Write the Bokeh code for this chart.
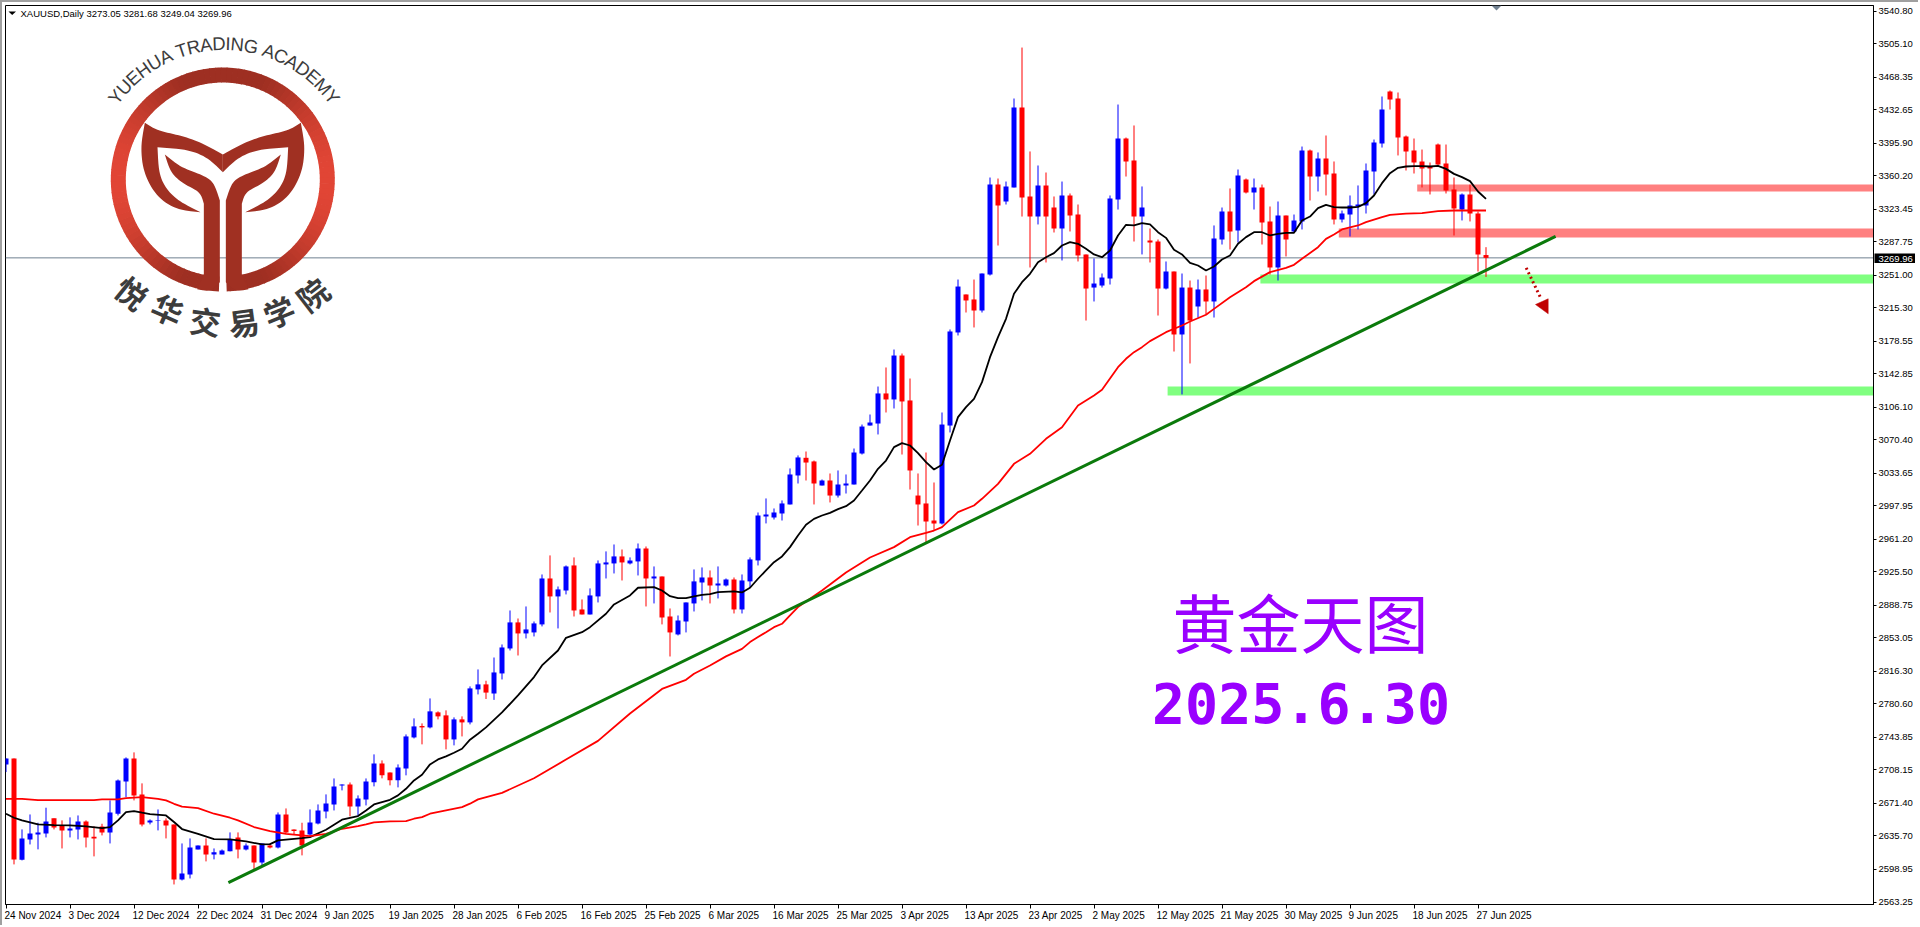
import math
from bokeh.plotting import figure
from bokeh.models import Range1d, FixedTicker, Label, Span, ColumnDataSource, LinearAxis
from bokeh.core.properties import value
from bokeh.embed import file_html
from bokeh.resources import INLINE

symbol_line = "XAUUSD,Daily  3273.05 3281.68 3249.04 3269.96"
last_price = 3269.96

opens = [
2714.2,2720.8,2609.6,2631.9,2637.4,2638.5,2655.0,2647.3,2641.8,2642.9,
2651.7,2634.8,2646.2,2639.6,2660.1,2695.5,2720.8,2681.3,2650.6,2652.0,
2652.8,2648.4,2588.0,2593.5,2620.9,2625.3,2615.5,2615.5,2618.8,2634.1,
2620.9,2625.3,2606.7,2625.3,2623.1,2659.3,2642.9,2641.8,2637.4,2649.5,
2662.6,2670.3,2691.2,2692.3,2668.1,2675.8,2694.5,2715.3,2705.4,2696.7,
2709.8,2743.8,2756.3,2754.8,2771.3,2768.0,2741.6,2763.6,2760.3,2796.5,
2802.0,2792.0,2814.0,2841.4,2870.0,2857.9,2859.0,2867.8,2918.2,2898.5,
2905.0,2932.5,2884.2,2878.7,2898.5,2933.6,2934.7,2942.4,2934.7,2936.9,
2951.1,2918.2,2920.4,2876.5,2856.8,2871.0,2890.8,2913.8,2919.3,2910.5,
2910.5,2917.1,2884.2,2915.0,2938.0,2986.2,2985.1,2989.5,2999.4,3031.2,
3050.6,3046.6,3020.2,3025.7,3009.2,3020.2,3021.3,3055.3,3086.0,3088.2,
3121.2,3114.6,3162.8,3113.5,3009.2,3000.5,2981.8,2978.5,3086.0,3188.1,
3229.8,3224.3,3212.2,3251.7,3350.4,3331.8,3347.2,3434.9,3337.3,3315.3,
3349.4,3325.2,3302.2,3338.4,3317.5,3273.7,3237.4,3239.6,3247.3,3334.0,
3400.9,3376.8,3315.3,3289.0,3287.9,3236.3,3255.0,3185.9,3237.4,3216.6,
3235.3,3222.1,3290.1,3320.8,3300.0,3355.9,3341.7,3347.2,3309.9,3259.4,
3316.4,3298.9,3309.9,3387.8,3359.2,3379.0,3362.5,3312.1,3317.5,3326.3,
3327.4,3364.7,3395.4,3452.5,3444.8,3403.1,3387.8,3375.7,3370.2,3394.3,
3373.5,3345.0,3323.0,3339.5,3318.6,3273.05]
highs = [
2720.8,2720.8,2642.9,2659.3,2650.2,2666.7,2655.0,2652.8,2656.1,2658.2,
2652.8,2646.2,2649.1,2674.7,2697.7,2721.9,2727.4,2693.4,2653.9,2664.8,
2655.0,2648.4,2627.5,2633.0,2625.3,2633.0,2622.0,2620.9,2639.6,2639.6,
2627.5,2625.3,2627.5,2627.5,2661.5,2665.9,2642.9,2650.2,2664.8,2670.3,
2681.3,2698.8,2692.3,2694.4,2680.2,2698.8,2725.2,2718.6,2705.4,2714.2,
2747.1,2764.7,2759.2,2786.6,2772.4,2773.5,2765.8,2766.9,2799.8,2818.4,
2806.0,2831.5,2845.8,2883.1,2874.3,2887.5,2871.0,2922.6,2943.5,2909.4,
2932.5,2941.3,2895.2,2907.3,2938.0,2947.9,2955.5,2950.0,2941.3,2956.6,
2953.3,2931.4,2920.4,2885.3,2877.6,2891.9,2928.1,2930.3,2927.0,2931.4,
2918.2,2919.3,2922.6,2941.3,2990.6,3006.0,2995.0,3003.8,3038.9,3053.2,
3057.5,3047.6,3026.8,3033.4,3036.7,3032.3,3060.8,3087.1,3098.1,3128.8,
3149.7,3169.4,3165.0,3137.6,3033.4,3056.4,3023.5,3100.3,3191.4,3246.2,
3229.8,3246.2,3252.8,3358.1,3357.0,3353.7,3444.8,3500.7,3386.7,3371.3,
3363.6,3337.3,3353.7,3340.6,3328.5,3273.7,3269.3,3252.8,3338.4,3438.2,
3402.0,3415.2,3348.3,3302.2,3290.1,3266.0,3255.0,3252.8,3245.1,3246.2,
3250.6,3305.5,3325.2,3346.1,3366.9,3357.0,3357.0,3350.4,3326.3,3331.8,
3316.4,3317.5,3392.1,3388.8,3385.6,3404.2,3375.7,3321.9,3338.4,3349.4,
3373.5,3399.8,3447.0,3453.6,3451.4,3404.2,3400.9,3388.8,3374.6,3395.4,
3394.3,3358.1,3340.6,3350.4,3320.8,3281.68]
lows = [
2705.8,2604.5,2608.9,2626.4,2621.0,2634.1,2642.9,2622.0,2634.1,2631.9,
2623.1,2613.3,2636.3,2627.5,2658.2,2678.4,2674.7,2646.2,2648.4,2641.8,
2633.0,2582.5,2586.9,2589.1,2620.9,2607.8,2610.0,2615.5,2618.8,2611.1,
2619.8,2599.0,2603.4,2622.0,2622.0,2638.5,2637.4,2614.4,2635.2,2648.4,
2655.0,2663.7,2685.7,2657.2,2658.2,2669.2,2690.1,2698.9,2691.2,2689.0,
2702.2,2742.7,2736.2,2753.7,2763.6,2730.7,2735.1,2744.9,2758.1,2791.0,
2786.0,2785.0,2807.4,2839.2,2833.7,2852.4,2854.6,2865.6,2880.9,2863.4,
2900.7,2876.5,2878.7,2878.7,2891.9,2918.2,2923.7,2916.0,2933.6,2921.5,
2887.5,2890.8,2867.8,2832.6,2855.7,2859.0,2882.0,2894.1,2890.8,2896.3,
2909.4,2879.8,2879.8,2908.3,2932.5,2978.6,2982.9,2981.8,2999.4,3022.4,
3025.7,2999.4,3020.2,3001.6,3007.0,3011.4,3021.3,3054.2,3086.0,3076.2,
3100.3,3104.7,3054.2,3015.8,2976.3,2957.7,2970.8,2977.4,3078.4,3184.8,
3210.0,3193.6,3210.0,3250.6,3283.5,3328.5,3347.2,3315.3,3259.4,3306.6,
3264.9,3297.8,3267.1,3298.9,3266.0,3201.2,3222.1,3237.4,3240.7,3323.0,
3359.2,3287.9,3273.7,3264.9,3206.7,3235.3,3167.2,3120.1,3154.1,3204.5,
3207.8,3204.5,3284.6,3279.1,3286.8,3340.6,3323.0,3284.6,3251.7,3245.1,
3271.5,3297.8,3301.1,3332.9,3342.8,3338.4,3306.6,3308.8,3293.4,3301.1,
3318.6,3339.5,3391.0,3432.7,3382.3,3365.8,3362.5,3347.2,3339.5,3370.2,
3340.6,3294.5,3311.0,3309.9,3255.0,3249.04]
closes = [
2720.8,2610.0,2633.0,2638.5,2639.6,2651.7,2645.1,2641.8,2644.0,2651.7,
2634.1,2633.0,2639.6,2661.5,2696.6,2720.8,2680.2,2648.4,2652.8,2652.8,
2647.3,2588.0,2594.6,2623.1,2625.3,2615.5,2617.7,2619.8,2631.9,2620.9,
2625.3,2606.7,2627.5,2623.1,2659.3,2639.6,2641.1,2625.3,2650.6,2663.7,
2671.4,2690.1,2692.3,2668.1,2676.9,2695.5,2715.3,2702.2,2696.7,2710.9,
2744.9,2755.9,2754.8,2772.4,2766.9,2741.6,2763.6,2760.3,2797.6,2802.0,
2793.0,2815.1,2842.5,2870.0,2857.9,2862.3,2868.9,2918.2,2898.5,2906.2,
2931.4,2883.1,2878.7,2899.6,2934.7,2935.8,2942.4,2935.8,2937.9,2951.1,
2918.2,2920.4,2875.4,2859.0,2872.1,2891.9,2915.0,2919.3,2910.5,2912.7,
2917.1,2884.2,2916.0,2939.1,2987.3,2988.4,2990.6,3000.5,3032.3,3051.0,
3045.4,3022.4,3025.7,3009.2,3021.3,3022.4,3056.4,3084.9,3089.3,3121.2,
3114.6,3162.8,3112.4,3036.7,2999.4,2980.7,2978.5,3087.1,3189.2,3238.5,
3223.2,3212.2,3252.8,3350.4,3327.4,3348.3,3434.9,3336.2,3315.3,3349.4,
3315.3,3302.2,3338.4,3316.4,3272.6,3236.3,3241.8,3248.4,3335.1,3400.9,
3375.7,3315.3,3325.2,3286.8,3236.3,3255.0,3185.9,3237.4,3201.2,3235.3,
3222.1,3291.2,3320.8,3298.9,3360.3,3341.7,3347.2,3308.8,3259.4,3316.4,
3290.1,3311.0,3387.8,3359.2,3379.0,3361.4,3312.1,3318.6,3327.4,3328.5,
3365.8,3396.5,3432.7,3443.7,3402.0,3386.7,3374.6,3368.0,3368.0,3372.4,
3343.9,3324.1,3339.5,3318.6,3273.7,3269.96]

fast_idx = [0,1,2,4,6,8,10,12,13,14,15,16,17,18,20,21,22,24,26,28,30,32,33,34,36,37,38,40,41,42,44,45,46,48,49,50,51,52,
53,54,55,56,57,58,59,60,62,64,66,67,69,70,72,73,75,76,78,79,81,82,83,84,85,86,87,88,89,91,92,93,94,95,96,97,98,99,
100,101,102,103,104,105,106,107,108,109,110,111,112,113,114,115,116,117,118,119,120,121,122,123,124,125,126,127,128,129,130,131,132,133,134,135,136,137,
138,139,140,141,142,143,144,145,146,147,148,149,150,151,152,153,154,155,156,157,158,159,160,161,162,163,164,165,166,167,168,169,170,171,172,173,174,175,176,177,178,179,180,181,182,183,184,185]
fast_ma = [2660.1,2655.7,2652.8,2648.4,2647.6,2647.3,2646.2,2644.4,2645.4,2652.8,2661.9,2663.0,2661.2,2659.7,2658.2,2651.0,2643.3,2638.1,2632.3,2631.9,2629.7,2626.4,2626.8,2630.8,2632.6,2633.4,2634.5,2642.5,2648.0,2653.5,2657.5,2663.7,2670.3,2675.4,2680.2,2687.5,2696.6,2702.9,
2714.2,2719.7,2723.0,2727.0,2731.4,2741.3,2747.9,2754.8,2771.2,2789.9,2810.0,2822.8,2839.2,2853.1,2859.3,2864.8,2879.5,2889.7,2899.6,2908.0,2908.7,2905.0,2898.8,2896.6,2896.6,2898.5,2900.3,2901.0,2903.2,2904.0,2902.9,2908.0,2917.9,2927.0,2936.1,2942.4,2952.6,2965.4,
2977.1,2983.6,2987.3,2990.2,2994.3,2997.5,3003.8,3014.7,3025.7,3038.5,3047.6,3062.3,3066.7,3064.1,3055.7,3045.8,3037.8,3042.9,3069.6,3095.2,3106.2,3115.3,3133.6,3161.0,3183.0,3203.1,3230.5,3243.3,3252.4,3265.2,3270.7,3275.1,3283.5,3287.2,3285.4,3279.9,3273.7,3270.7,
3278.0,3294.5,3306.2,3305.5,3308.0,3306.6,3298.1,3291.9,3278.8,3273.7,3264.5,3261.6,3256.1,3260.5,3268.2,3272.6,3285.4,3292.7,3298.1,3298.1,3294.5,3296.3,3297.4,3297.4,3311.0,3315.3,3324.5,3328.1,3325.6,3325.2,3325.2,3325.9,3330.0,3338.4,3351.9,3362.9,3368.7,3370.2,3370.6,3370.6,3370.2,3370.9,3367.6,3362.1,3358.5,3354.1,3342.8,3334.7]

slow_idx = [0,2,4,8,11,12,14,15,17,19,20,21,22,24,26,28,29,31,33,35,37,38,40,41,42,44,45,46,48,50,51,52,53,55,57,58,59,
62,66,70,74,78,82,85,86,88,90,92,93,94,95,96,97,98,99,102,105,108,111,113,115,116,117,119,121,122,124,126,128,130,132,134,136,137,139,
140,141,142,143,145,147,148,150,151,153,155,156,158,160,161,162,164,165,166,167,169,170,172,173,175,177,179,181,183,185]
slow_ma = [2676.5,2676.5,2675.0,2675.0,2675.0,2675.8,2675.8,2677.3,2678.4,2676.5,2674.7,2671.0,2667.8,2666.3,2660.1,2655.7,2652.8,2645.5,2641.0,2638.1,2636.3,2635.6,2638.1,2640.7,2643.6,2646.6,2648.4,2650.6,2651.7,2652.0,2654.6,2656.4,2660.1,2663.8,2667.4,2671.1,2675.8,
2683.0,2699.0,2719.5,2740.0,2770.0,2797.0,2807.0,2813.6,2822.8,2832.7,2841.0,2848.4,2853.9,2859.3,2864.8,2868.5,2877.6,2886.8,2905.0,2924.8,2941.2,2952.6,2963.5,2968.3,2970.8,2974.5,2991.0,2998.3,3005.6,3022.0,3044.0,3055.0,3071.4,3084.2,3108.0,3119.0,3125.2,3150.0,
3159.2,3166.5,3172.0,3178.6,3188.4,3195.8,3200.1,3207.5,3214.0,3226.8,3237.8,3244.4,3254.3,3259.0,3262.3,3268.9,3281.7,3290.8,3295.6,3301.1,3305.5,3309.1,3314.6,3317.2,3318.6,3319.0,3321.2,3321.9,3321.9,3321.9]

price_ticks = [3540.80,3505.10,3468.35,3432.65,3395.90,3360.20,3323.45,3287.75,3251.00,3215.30,3178.55,3142.85,3106.10,3070.40,3033.65,2997.95,2961.20,2925.50,2888.75,2853.05,2816.30,2780.60,2743.85,2708.15,2671.40,2635.70,2598.95,2563.25]
date_labels = ["24 Nov 2024","3 Dec 2024","12 Dec 2024","22 Dec 2024","31 Dec 2024","9 Jan 2025","19 Jan 2025","28 Jan 2025","6 Feb 2025","16 Feb 2025","25 Feb 2025","6 Mar 2025","16 Mar 2025","25 Mar 2025","3 Apr 2025","13 Apr 2025","23 Apr 2025","2 May 2025","12 May 2025","21 May 2025","30 May 2025","9 Jun 2025","18 Jun 2025","27 Jun 2025"]
date_every = 8

red_bands = [(176.4, 233.4, 3342.8, 3350.5), (166.6, 233.4, 3292.3, 3302.2)]
green_bands = [(156.8, 233.6, 3241.8, 3251.7), (145.2, 233.6, 3119.0, 3128.9)]
trend_bars = [27.8, 193.7]
trend_prices = [2584.4, 3293.5]

OX, OY = 2, 2
W, H = 1918, 925
FL, FR, FT, FB = 5, 1873, 5, 904

def price_at(py):
    return 3540.80 - (py - 10.5) * 977.55 / 891.0
def bar_at(px):
    return (px - 5.5) / 8.0

p = figure(width=W, height=H, output_backend="svg", toolbar_location=None,
           x_range=Range1d(bar_at(FL), bar_at(FR)),
           y_range=Range1d(price_at(FB), price_at(FT)),
           y_axis_location="right",
           min_border_left=FL-OX, min_border_top=FT-OY,
           min_border_right=OX+W-FR, min_border_bottom=OY+H-FB)
p.extra_x_ranges = {"px": Range1d(FL, FR)}
p.extra_y_ranges = {"px": Range1d(FB, FT)}
p.styles = {"position": "absolute", "left": f"{OX}px", "top": f"{OY}px",
            "box-shadow": "-2px -2px 0 0 #a0a0a0, 0 2px 0 0 #ececec"}
p.grid.visible = False
p.background_fill_color = "white"
p.border_fill_color = "white"
p.outline_line_color = "black"
p.outline_line_width = 1

UI_FONT = "Liberation Sans"
ax = p.yaxis[0]
ax.ticker = FixedTicker(ticks=price_ticks)
ax.major_label_overrides = {t: f"{t:.2f}" for t in price_ticks}
ax.major_label_text_font = UI_FONT
ax.major_label_text_font_size = "9.5px"
ax.major_label_text_color = "black"
ax.major_tick_in = 0
ax.major_tick_out = 3
ax.minor_tick_out = 0
ax.minor_tick_in = 0
ax.major_label_standoff = 2
ax.axis_line_color = "black"
ax.major_tick_line_color = "black"

bx = p.xaxis[0]
date_ticks = [i * date_every for i in range(len(date_labels))]
bx.ticker = FixedTicker(ticks=date_ticks)
bx.major_label_overrides = {t: " " for t in date_ticks}
bx.major_label_text_font_size = "1px"
bx.major_label_standoff = 0
bx.major_tick_in = 0
bx.major_tick_out = 4
bx.minor_tick_out = 0
bx.minor_tick_in = 0
bx.axis_line_color = "black"
bx.major_tick_line_color = "black"

CH = dict(N=.722, o=.556, v=.5, D=.722, e=.556, c=.5, J=.5, a=.556, n=.556, F=.611, b=.556, M=.833, r=.333, A=.667, p=.556, y=.5, u=.556)
CH[" "] = .278
DATE_FS = 10.0
def text_w(s):
    return sum(CH.get(c, .556) for c in s) * DATE_FS
label_ticks = [round(t + (text_w(s) / 2 - 1.5) / 8, 4) for t, s in zip(date_ticks, date_labels)]
bx2 = LinearAxis(ticker=FixedTicker(ticks=label_ticks),
                 major_label_overrides=dict(zip(label_ticks, date_labels)),
                 major_label_text_font=UI_FONT, major_label_text_font_size=f"{DATE_FS}px",
                 major_label_text_color="black", major_label_standoff=-3,
                 major_tick_in=0, major_tick_out=0, minor_tick_in=0, minor_tick_out=0,
                 axis_line_color=None)
p.add_layout(bx2, "below")

PX = dict(x_range_name="px", y_range_name="px")

for l, r, lo, hi in red_bands:
    p.quad(left=l, right=r, bottom=lo, top=hi, fill_color="#FF8080", line_color=None)
for l, r, lo, hi in green_bands:
    p.quad(left=l, right=r, bottom=lo, top=hi, fill_color="#80FF80", line_color=None)

p.add_layout(Span(location=last_price, dimension="width", line_color="#708090", line_width=1, level="underlay"))

n = len(opens)
idx = list(range(n))
colors = ["#0000FF" if c >= o else "#FF0000" for o, c in zip(opens, closes)]
src = ColumnDataSource(dict(x=idx, o=opens, h=highs, l=lows, c=closes, col=colors,
                            top=[max(a, b) for a, b in zip(opens, closes)],
                            bot=[min(a, b) for a, b in zip(opens, closes)]))
p.segment("x", "h", "x", "l", source=src, line_color="col", line_width=1)
p.vbar(x="x", top="top", bottom="bot", width=5/8, source=src, fill_color="col", line_color=None)

p.line(fast_idx, fast_ma, line_color="black", line_width=1.8)
p.line(slow_idx, slow_ma, line_color="#FF0000", line_width=1.8)
p.line(trend_bars, trend_prices, line_color="#0B7A0B", line_width=3)

p.line([1525.7, 1540], [267.3, 297], line_color="#C00000", line_width=3, line_dash="2 3", **PX)
p.patch([1535, 1547.7, 1547.7], [304, 298.3, 313.3], fill_color="#C00000", line_color="#C00000", line_width=0.5, **PX)

p.patch([1491, 1501, 1496], [5, 5, 10], fill_color="#708090", line_color=None, **PX)
p.patch([8, 15.5, 11.7], [11, 11, 14.5], fill_color="black", line_color=None, **PX)

LCX, LCY, RO, RI = 222.3, 179.0, 112.0, 97.0
def mix(t):
    a, b = (0x9E, 0x2F, 0x22), (0xE2, 0x46, 0x36)
    return "#%02x%02x%02x" % tuple(int(a[i] + (b[i] - a[i]) * t) for i in range(3))
xs, ys, cols = [], [], []
A0, A1, STEP = 92.0, 448.0, 3.0
a = A0
while a < A1:
    b = min(a + STEP + 0.4, A1)
    ang = [a + (b - a) * k / 2 for k in range(3)]
    xs.append([LCX + RO * math.cos(math.radians(t)) for t in ang] + [LCX + RI * math.cos(math.radians(t)) for t in ang[::-1]])
    ys.append([LCY + RO * math.sin(math.radians(t)) for t in ang] + [LCY + RI * math.sin(math.radians(t)) for t in ang[::-1]])
    d = abs(math.cos(math.radians(a + STEP / 2)))
    cols.append(mix(max(0.0, (d - 0.35) / 0.65) ** 1.3))
    a += STEP
p.patches(xs, ys, fill_color=cols, line_color=None, **PX)

def smooth(pts, sharp, rounds=3):
    """corner cutting, leaving the listed corners sharp"""
    pts = [(x, y, (x, y) in sharp) for x, y in pts]
    for _ in range(rounds):
        out = []
        m = len(pts)
        for k in range(m):
            x0, y0, s0 = pts[k]
            x1, y1, s1 = pts[(k + 1) % m]
            if s0:
                out.append((x0, y0, True))
            else:
                out.append((0.75 * x0 + 0.25 * x1, 0.75 * y0 + 0.25 * y1, False))
            if not s1:
                out.append((0.25 * x0 + 0.75 * x1, 0.25 * y0 + 0.75 * y1, False))
        pts = out
    return [(q[0], q[1]) for q in pts]

tail = [(433,367),(470,390),(540,405),(600,425),(667,462),(667,515),(620,470),(560,447),(471,440),
        (475,520),(500,570),(540,605),(600,635),(530,628),(470,590),(430,520),(420,440)]
tail_sharp = {(433,367),(667,462),(667,515),(471,440),(600,635)}
leaf = [(493,462),(540,500),(605,523),(640,545),(658,600),(658,845),(628,873),(590,866),(610,822),
        (610,610),(600,575),(545,548),(510,515)]
leaf_sharp = {(493,462),(658,600),(658,845),(610,822),(590,866),(610,610)}
for shape, sharp in ((tail, tail_sharp), (leaf, leaf_sharp)):
    sm = smooth(shape, sharp)
    lx = [q[0] / 3 for q in sm]
    ly = [q[1] / 3 for q in sm]
    p.patch(lx, ly, fill_color="#A03022", line_color=None, **PX)
    p.patch([(1334 - q[0]) / 3 for q in sm], ly, fill_color="#A03022", line_color=None, **PX)

en = "YUEHUA TRADING ACADEMY"
wid = dict(Y=667, U=722, E=667, H=722, A=667, T=611, R=722, D=722, I=278, N=722, G=778, C=722, M=833)
wid[" "] = 278
FS, TR, TCX = 18.5, 136.0, 223.5
tot = sum(wid[c] for c in en) / 1000 * FS
pos = -tot / 2
tx, ty, ta, tt = [], [], [], []
for c in en:
    w = wid[c] / 1000 * FS
    th = (pos + w / 2) / TR
    pos += w
    tx.append(TCX + TR * math.sin(th)); ty.append(LCY - TR * math.cos(th)); ta.append(-th); tt.append(c)
p.text(tx, ty, text=tt, angle=ta, text_font=value("Liberation Sans"), text_font_size="18.5px",
       text_color="#3c3c3c", text_align="center", text_baseline="middle", **PX)

cn_chars = list("悦华交易学院")
cn_x = [131.7, 167.3, 205.0, 243.3, 278.3, 311.7]
cn_y = [291.7, 308.3, 320.0, 321.0, 310.7, 293.3]
cn_a = [math.radians(t) for t in (-39, -24, -7.7, 7.7, 22, 37.7)]
p.text(cn_x, cn_y, text=cn_chars, angle=cn_a, text_font=value("Noto Sans CJK SC"), text_font_style="bold",
       text_font_size="31px", text_color="#3c3c3c", text_align="center", text_baseline="middle", **PX)

p.add_layout(Label(x=1300, y=619, text="黄金天图", text_color="#9900FF", text_font="Noto Sans CJK SC",
                   text_font_size="64px", text_align="center", text_baseline="middle", **PX))
p.add_layout(Label(x=1300.5, y=702.5, text="2025.6.30", text_color="#9900FF", text_font="DejaVu Sans Mono",
                   text_font_style="bold", text_font_size="55px", text_align="center", text_baseline="middle", **PX))

p.add_layout(Label(x=20, y=12.5, text=symbol_line, text_color="black", text_font=UI_FONT, text_font_size="9.5px",
                   text_align="left", text_baseline="middle", **PX))

# current-price tag over the axis: a tiny figure of its own, laid over the page
TAG_L, TAG_T, TAG_W, TAG_H = 1874, 252, 41, 11
tag = figure(width=TAG_W, height=TAG_H, output_backend="svg", toolbar_location=None,
             x_range=Range1d(0, TAG_W), y_range=Range1d(0, TAG_H),
             min_border=0, min_border_left=0, min_border_right=0, min_border_top=0, min_border_bottom=0,
             x_axis_location=None, y_axis_location=None)
tag.grid.visible = False
tag.outline_line_color = None
tag.background_fill_color = "black"
tag.border_fill_color = "black"
tag.styles = {"position": "absolute", "left": f"{TAG_L}px", "top": f"{TAG_T}px", "z-index": "5"}
tag.add_layout(Label(x=4, y=5.5, text=f"{last_price:.2f}", text_color="white", text_font=UI_FONT,
                     text_font_size="9.5px", text_align="left", text_baseline="middle"))

open("out.html", "w").write(file_html([p, tag], INLINE))
